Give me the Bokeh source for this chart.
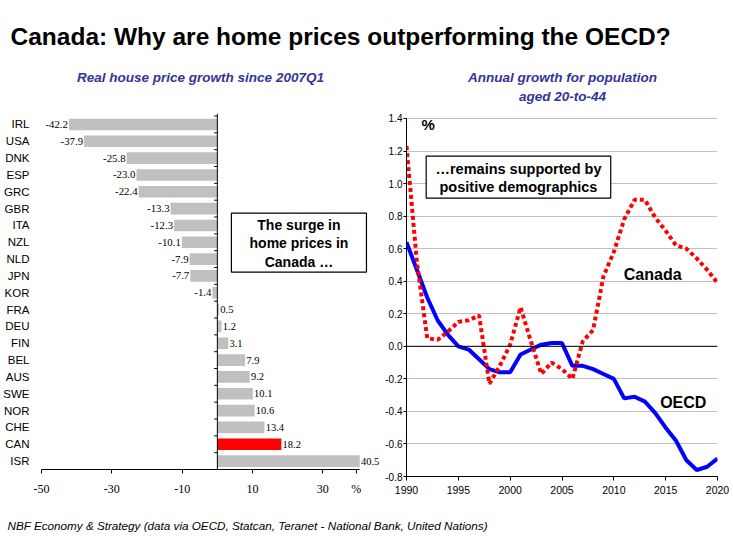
from bokeh.plotting import figure
from bokeh.models import (Range1d, LabelSet, Span, FixedTicker, ColumnDataSource,
                          NumeralTickFormatter)
from bokeh.layouts import column, row
from bokeh.embed import file_html
from bokeh.resources import INLINE
from bokeh.core.properties import value

# ---------------- data ----------------
countries = ["IRL", "USA", "DNK", "ESP", "GRC", "GBR", "ITA", "NZL", "NLD", "JPN", "KOR",
             "FRA", "DEU", "FIN", "BEL", "AUS", "SWE", "NOR", "CHE", "CAN", "ISR"]
price_growth = [-42.2, -37.9, -25.8, -23.0, -22.4, -13.3, -12.3, -10.1, -7.9, -7.7, -1.4,
                0.5, 1.2, 3.1, 7.9, 9.2, 10.1, 10.6, 13.4, 18.2, 40.5]
highlight = "CAN"
bar_ticks = [-50, -30, -10, 10, 30]
bar_unit_pos = 39.5
bar_unit = "%"

years = list(range(1990, 2021))
canada = [1.23, 0.52, 0.05, 0.04, 0.09, 0.15, 0.16, 0.19, -0.23, -0.12, 0.01, 0.24, 0.03,
          -0.17, -0.10, -0.14, -0.20, 0.03, 0.10, 0.43, 0.58, 0.78, 0.90, 0.90, 0.79, 0.71,
          0.62, 0.60, 0.54, 0.47, 0.39]
oecd = [0.64, 0.47, 0.30, 0.16, 0.07, 0.00, -0.02, -0.08, -0.14, -0.16, -0.16, -0.05, -0.02,
        0.01, 0.02, 0.02, -0.12, -0.12, -0.14, -0.17, -0.20, -0.32, -0.31, -0.34, -0.41,
        -0.50, -0.58, -0.70, -0.76, -0.74, -0.69]
year_ticks = [1990, 1995, 2000, 2005, 2010, 2015, 2020]
pop_ticks = [-0.8, -0.6, -0.4, -0.2, 0.0, 0.2, 0.4, 0.6, 0.8, 1.0, 1.2, 1.4]

SANS = "Liberation Sans"
SERIF = "Liberation Serif"
SUB_COLOR = "#333399"


def blank(width, height):
    p = figure(width=width, height=height, x_range=Range1d(0, width), y_range=Range1d(height, 0),
               output_backend="svg", toolbar_location=None, min_border=0,
               x_axis_location=None, y_axis_location=None)
    p.grid.visible = False
    p.outline_line_color = None
    return p


# ---------------- header ----------------
head = blank(733, 105)
head.text(x=[10], y=[36], text=["Canada: Why are home prices outperforming the OECD?"],
          text_font=value(SANS), text_font_style="bold", text_font_size="24.5px",
          text_baseline="alphabetic", text_align="left", text_color="black")
head.text(x=[200], y=[77], text=["Real house price growth since 2007Q1"],
          text_font=value(SANS), text_font_style="bold italic", text_font_size="13.5px",
          text_baseline="middle", text_align="center", text_color=SUB_COLOR)
head.text(x=[562, 562], y=[77, 96], text=["Annual growth for population", "aged 20-to-44"],
          text_font=value(SANS), text_font_style="bold italic", text_font_size="13.5px",
          text_baseline="middle", text_align="center", text_color=SUB_COLOR)

# ---------------- left: bar chart ----------------
n = len(countries)
ypos = [n - 1 - i for i in range(n)]
colors = ["#FF0000" if c == highlight else "#C0C0C0" for c in countries]
src = ColumnDataSource(dict(y=ypos, v=price_growth, c=colors))

p1 = figure(width=382, height=393, x_range=Range1d(-50, 46.96), y_range=Range1d(-0.5, 20.65),
            output_backend="svg", toolbar_location=None,
            min_border_left=41, min_border_right=0, min_border_top=8, min_border_bottom=28)
p1.grid.visible = False
p1.outline_line_color = None
p1.hbar(y="y", left=0, right="v", height=0.69, fill_color="c", line_color=None, source=src)

neg = ColumnDataSource(dict(y=[y for y, v in zip(ypos, price_growth) if v < 0],
                            v=[v for v in price_growth if v < 0],
                            lab=[f"{v:.1f}" for v in price_growth if v < 0]))
pos = ColumnDataSource(dict(y=[y for y, v in zip(ypos, price_growth) if v >= 0],
                            v=[v for v in price_growth if v >= 0],
                            lab=[f"{v:.1f}" for v in price_growth if v >= 0]))
p1.add_layout(LabelSet(x="v", y="y", text="lab", source=neg, x_offset=-1,
                       text_align="right", text_baseline="middle",
                       text_font=SERIF, text_font_size="10.8px", text_color="black"))
p1.add_layout(LabelSet(x="v", y="y", text="lab", source=pos, x_offset=1.2,
                       text_align="left", text_baseline="middle",
                       text_font=SERIF, text_font_size="10.5px", text_color="black"))

p1.add_layout(Span(location=0, dimension="height", line_color="black", line_width=1))
bounds = [i - 0.5 for i in range(n + 1)]
p1.segment(x0=[-0.9] * len(bounds), y0=bounds, x1=[0] * len(bounds), y1=bounds,
           line_color="black", line_width=1)

p1.yaxis.ticker = FixedTicker(ticks=ypos)
p1.yaxis.major_label_overrides = {y: c for y, c in zip(ypos, countries)}
p1.yaxis.axis_line_color = None
p1.yaxis.major_tick_line_color = None
p1.yaxis.minor_tick_line_color = None
p1.yaxis.major_label_standoff = 6
p1.yaxis.major_label_text_font = SANS
p1.yaxis.major_label_text_font_size = "11.5px"
p1.yaxis.major_label_text_color = "black"

p1.xaxis.ticker = FixedTicker(ticks=bar_ticks + [bar_unit_pos])
p1.xaxis.formatter = NumeralTickFormatter(format="0")
p1.xaxis.major_label_overrides = {bar_unit_pos: bar_unit}
p1.xaxis.bounds = (-50, 40.5)
p1.xaxis.axis_line_color = "black"
p1.xaxis.major_tick_out = 4
p1.xaxis.major_tick_in = 0
p1.xaxis.minor_tick_line_color = None
p1.xaxis.major_label_standoff = 8
p1.xaxis.major_label_text_font = SERIF
p1.xaxis.major_label_text_font_size = "12px"
p1.xaxis.major_label_text_color = "black"

# annotation box on bar chart
p1.quad(left=[4.0], right=[42.4], top=[14.73], bottom=[11.23],
        fill_color="white", line_color="black", line_width=1.2)
p1.text(x=[23.2, 23.2, 23.2], y=[14.05, 12.98, 11.85],
        text=["The surge in", "home prices in", "Canada \u2026"],
        text_font=value(SANS), text_font_style="bold", text_font_size="14px",
        text_align="center", text_baseline="middle", text_color="black")

# ---------------- right: line chart ----------------
p2 = figure(width=351, height=400, x_range=Range1d(1990, 2020), y_range=Range1d(-0.8, 1.4306),
            output_backend="svg", toolbar_location=None,
            min_border_left=21, min_border_right=16, min_border_top=8, min_border_bottom=28)
p2.outline_line_color = None
p2.xgrid.visible = False
p2.ygrid.ticker = FixedTicker(ticks=pop_ticks)
p2.ygrid.grid_line_color = "#C0C0C0"
p2.ygrid.grid_line_width = 1
p2.add_layout(Span(location=0, dimension="width", line_color="black", line_width=1))

p2.line(years, oecd, line_color="#0000FF", line_width=4)
p2.line(years, canada, line_color="#FF0000", line_width=4, line_dash="4 3")

p2.yaxis.ticker = FixedTicker(ticks=pop_ticks)
p2.yaxis.bounds = (-0.8, 1.4)
p2.yaxis.formatter = NumeralTickFormatter(format="0.0")
p2.yaxis.major_tick_out = 3
p2.yaxis.major_tick_in = 0
p2.yaxis.minor_tick_line_color = None
p2.yaxis.major_label_standoff = 1
p2.yaxis.major_label_text_font = SANS
p2.yaxis.major_label_text_font_size = "10px"
p2.yaxis.major_label_text_color = "black"
p2.yaxis.axis_line_color = "black"

p2.xaxis.ticker = FixedTicker(ticks=year_ticks)
p2.xaxis.major_tick_out = 4
p2.xaxis.major_tick_in = 0
p2.xaxis.minor_tick_line_color = None
p2.xaxis.major_label_standoff = 5
p2.xaxis.major_label_text_font = SANS
p2.xaxis.major_label_text_font_size = "10.5px"
p2.xaxis.major_label_text_color = "black"
p2.xaxis.axis_line_color = "black"

p2.quad(left=[1991.9], right=[2009.7], top=[1.169], bottom=[0.911],
        fill_color="white", line_color="black", line_width=1.2)
p2.text(x=[2000.8, 2000.8], y=[1.088, 0.978],
        text=["\u2026remains supported by", "positive demographics"],
        text_font=value(SANS), text_font_style="bold", text_font_size="14.5px",
        text_align="center", text_baseline="middle", text_color="black")
p2.text(x=[2013.75], y=[0.444], text=["Canada"], text_font=value(SANS),
        text_font_style="bold", text_font_size="16px", text_align="center",
        text_baseline="middle", text_color="black")
p2.text(x=[2016.7], y=[-0.346], text=["OECD"], text_font=value(SANS),
        text_font_style="bold", text_font_size="16px", text_align="center",
        text_baseline="middle", text_color="black")
p2.text(x=[1992.1], y=[1.366], text=["%"], text_font=value(SANS),
        text_font_style="bold", text_font_size="15px", text_align="center",
        text_baseline="middle", text_color="black")

# ---------------- footer ----------------
foot = blank(733, 35)
foot.text(x=[7], y=[20], text=["NBF Economy & Strategy (data via OECD, Statcan, Teranet - National Bank, United Nations)"],
          text_font=value(SANS), text_font_style="italic", text_font_size="11.7px",
          text_baseline="middle", text_align="left", text_color="black")

layout = column(head, row(p1, p2), foot)
open("out.html", "w").write(file_html(layout, INLINE))
